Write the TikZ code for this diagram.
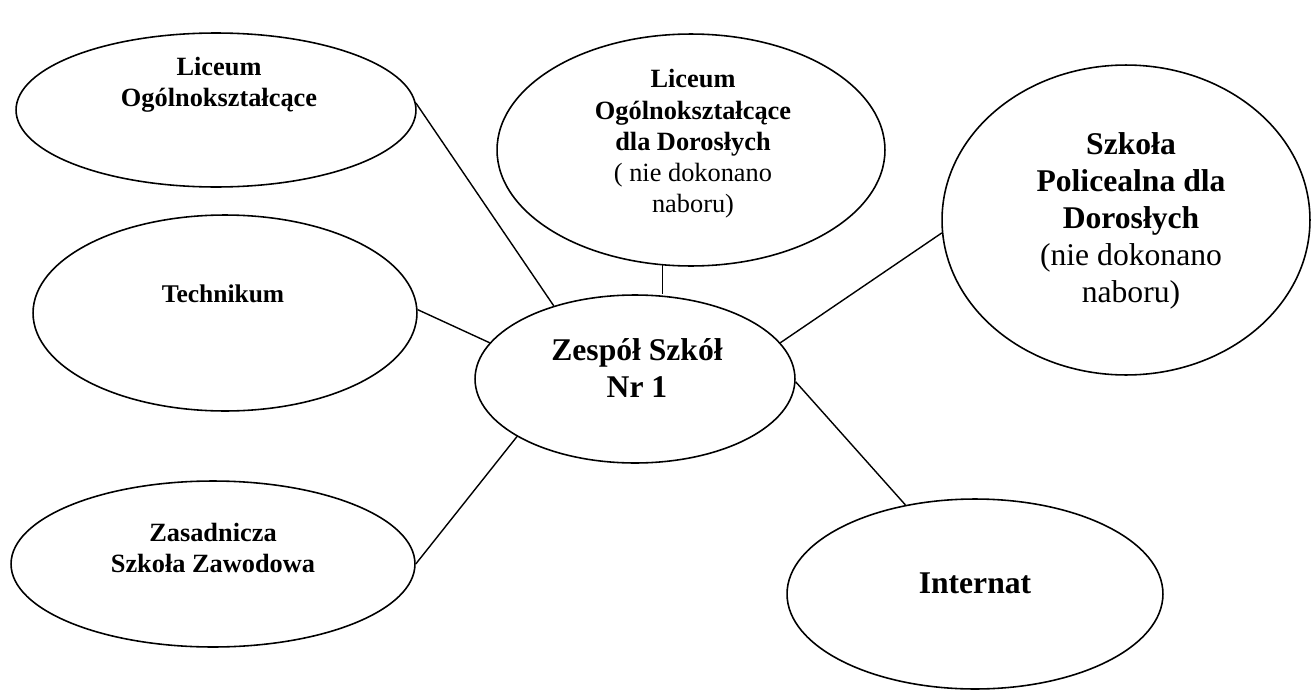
\documentclass[tikz,border=0pt]{standalone}
\usepackage{fontspec}
\setmainfont{Liberation Serif}
\usetikzlibrary{shapes.geometric}

\begin{document}
\begin{tikzpicture}[x=0.02cm, y=-0.02cm,
		oval/.style={draw, ellipse, line width=0.9pt, inner sep=0pt},
		conn/.style={line width=0.8pt},
		lbls/.style={align=center, font=\fontsize{15}{17.8}\selectfont\bfseries},
		lbll/.style={align=center, font=\fontsize{18}{21}\selectfont\bfseries}]
			\useasboundingbox (0,0) rectangle (1313,690);

			\begin{scope}
				\node[oval, minimum width=8cm, minimum height=3.08cm] (lo) at (216,110) {};
				\node[oval, minimum width=7.68cm, minimum height=3.92cm] (tech) at (225,313) {};
				\node[oval, minimum width=8.08cm, minimum height=3.32cm] (zsz) at (213,564) {};
				\node[oval, minimum width=7.76cm, minimum height=4.64cm] (lod) at (691,150) {};
				\node[oval, minimum width=7.36cm, minimum height=6.2cm] (spd) at (1126,220) {};
				\node[oval, minimum width=7.52cm, minimum height=3.8cm] (inter) at (975,594) {};
				\node[oval, minimum width=6.4cm, minimum height=3.36cm] (zs) at (635,379) {};
			\end{scope}

			\begin{scope}
				\node[lbls] (lo-t) at (219,85) {Liceum\\Ogólnokształcące};
				\node[lbls, font=\fontsize{14.5}{17}\selectfont\bfseries] (tech-t) at (223,294) {Technikum};
				\node[lbls] (zsz-t) at (213,548) {Zasadnicza\\Szkoła Zawodowa};
				\node[lbls] (lod-t) at (693,144) {Liceum\\Ogólnokształcące\\dla Dorosłych\\{\mdseries ( nie dokonano}\\{\mdseries naboru)}};
				\node[lbll] (spd-t) at (1131,221) {Szkoła\\Policealna dla\\Dorosłych\\{\mdseries (nie dokonano}\\{\mdseries naboru)}};
				\node[lbll] (inter-t) at (975,583) {Internat};
				\node[lbll] (zs-t) at (637,368) {Zespół Szkół\\Nr 1};
			\end{scope}

			\begin{scope}[conn]
				\draw (lo.2) -- (zs.138);
				\draw (tech.1.5) -- (zs.166);
				\draw (zsz.0.5) -- (zs.206);
				\draw (lod.256) -- (lod.256 |- zs.north);
				\draw (spd.184) -- (zs.14);
				\draw (zs.-1.5) -- (inter.128);
			\end{scope}
		\end{tikzpicture}
\end{document}
